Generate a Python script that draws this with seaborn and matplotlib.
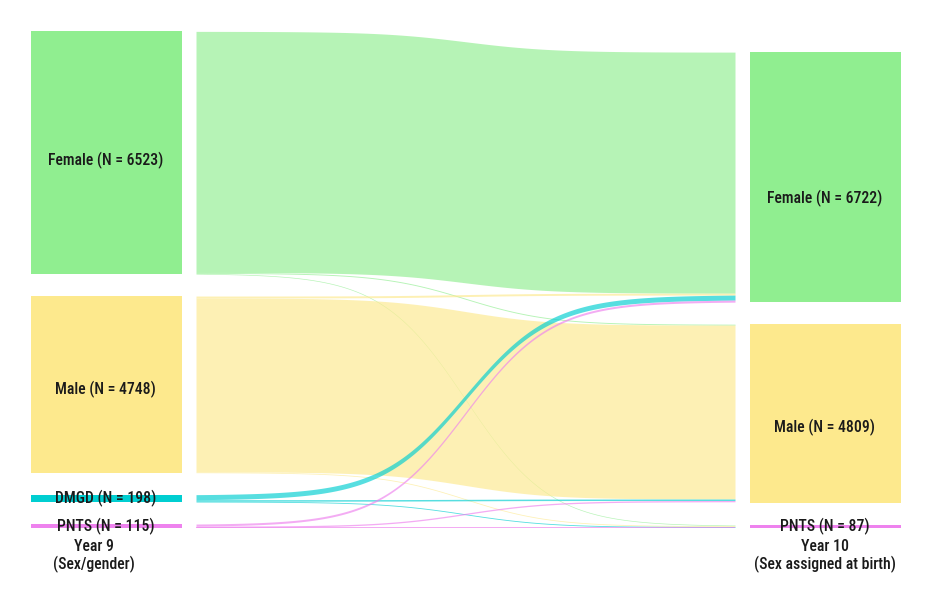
import matplotlib
matplotlib.use('Agg')
import matplotlib.pyplot as plt
from matplotlib import font_manager
import seaborn as sns
import numpy as np

sns.set_theme(style="white")
installed = {f.name for f in font_manager.fontManager.ttflist}
families = [f for f in ["Liberation Sans Narrow", "Roboto Condensed", "Open Sans Condensed",
                        "Lato", "DejaVu Sans"] if f in installed]
plt.rcParams["font.family"] = families + ["DejaVu Sans"]

# nodes
left_names = ["Female", "Male", "DMGD", "PNTS"]
left_n = [6523, 4748, 198, 115]
right_names = ["Female", "Male", "PNTS"]
right_n = [6722, 4809, 87]

# flows year 9 -> year 10 (rows: left node, cols: right node)
flows = np.array([
    [6480, 25, 18],     # Female
    [52, 4675, 21],     # Male
    [135, 40, 23],      # DMGD
    [55, 35, 25],       # PNTS
])

node_colors = {"Female": "#90EE90", "Male": "#FDE98D",
               "DMGD": "#00CED1", "PNTS": "#EE82EE"}

left_title = "Year 9\n(Sex/gender)"
right_title = "Year 10\n(Sex assigned at birth)"

# label nudges (px) for the big nodes
left_nudge = [8, 5.5, 0, 0]
right_nudge = [21, 14, 0]

# layout
K = 0.0372      # px per person
GAP = 22
BASE = 528.3
LX = (31, 182)
RX = (750, 901)
FX = (196, 735)
SMOOTH = 6.3
FS = 11.3


def stack(values):
    tops = []
    bottom = BASE
    for v in reversed(values):
        tops.append(bottom - v * K)
        bottom = bottom - v * K - GAP
    return tops[::-1]


left_top = stack(left_n)
right_top = stack(right_n)

fig = plt.figure(figsize=(9.27, 5.94), dpi=100)
ax = fig.add_axes([0, 0, 1, 1])
ax.set_xlim(0, 927)
ax.set_ylim(594, 0)
ax.axis("off")

# flows (sigmoid ribbons)
xs = np.linspace(FX[0], FX[1], 400)
z = SMOOTH * (2 * (xs - FX[0]) / (FX[1] - FX[0]) - 1)
sig = 1 / (1 + np.exp(-z))
s = (sig - sig[0]) / (sig[-1] - sig[0])
right_off = [0.0] * len(right_n)
for i, src in enumerate(left_names):
    off = 0.0
    for j in range(len(right_names)):
        h = flows[i, j] * K
        y0 = left_top[i] + off
        y1 = right_top[j] + right_off[j]
        top = y0 + (y1 - y0) * s
        ax.fill_between(xs, top, top + h, color=node_colors[src], alpha=0.66, lw=0)
        off += h
        right_off[j] += h

# nodes
for names, ns, tops, xr, nudge in [(left_names, left_n, left_top, LX, left_nudge),
                                   (right_names, right_n, right_top, RX, right_nudge)]:
    for name, n, y, dy in zip(names, ns, tops, nudge):
        h = n * K
        ax.bar((xr[0] + xr[1]) / 2, h, bottom=y, width=xr[1] - xr[0],
               color=node_colors[name], lw=0)
        ax.text((xr[0] + xr[1]) / 2 - 1, y + h / 2 + dy, f"{name} (N = {n})",
                ha="center", va="center", fontsize=FS, fontweight="medium",
                color="#1a1a1a")

ax.text(94, 556, left_title, ha="center", va="center", fontsize=FS,
        fontweight="medium", color="#1a1a1a", linespacing=1.15)
ax.text(825, 556, right_title, ha="center", va="center", fontsize=FS,
        fontweight="medium", color="#1a1a1a", linespacing=1.15)

fig.savefig("out.png", dpi=100)
